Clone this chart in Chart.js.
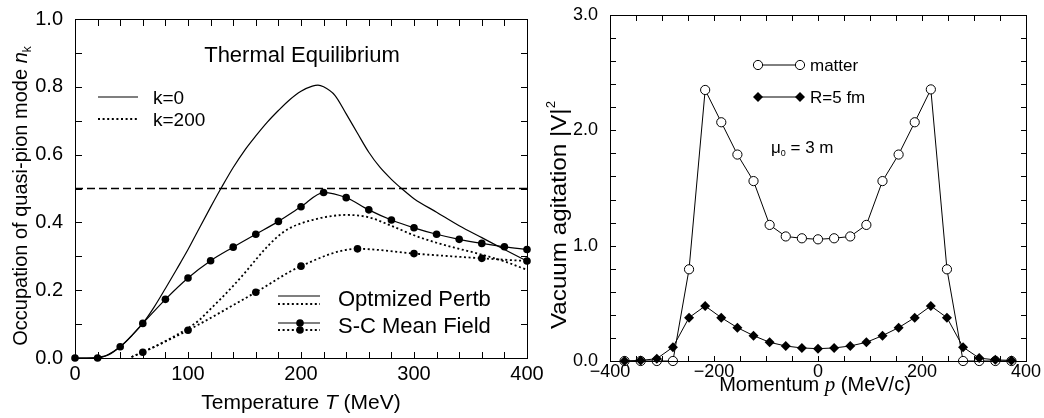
<!DOCTYPE html>
<html>
<head>
<meta charset="utf-8">
<script src="https://cdn.jsdelivr.net/npm/chart.js@4/dist/chart.umd.min.js"></script>
<style>
  html, body { margin: 0; padding: 0; background: #fff; }
  #wrap { position: relative; width: 1044px; height: 418px; overflow: hidden; }
  #c1 { position: absolute; left: 0; top: 0; }
  #c2 { position: absolute; left: 540px; top: 0; }
</style>
</head>
<body>
<div id="wrap">
  <canvas id="c1" width="560" height="418"></canvas>
  <canvas id="c2" width="504" height="418"></canvas>
</div>
<script>
// ---- Thermal equilibrium: occupation n_k vs temperature T (MeV) ----
const optK0T   = [0, 10, 20, 30, 40, 50, 60, 70, 80, 90, 100, 110, 120, 130, 140, 150, 160, 170, 180, 190, 200, 210, 215, 220, 230, 240, 250, 260, 270, 280, 290, 300, 320, 340, 360, 380, 400];
const optK0N   = [0, 0, 0.002, 0.01, 0.033, 0.065, 0.102, 0.15, 0.205, 0.262, 0.32, 0.383, 0.445, 0.505, 0.562, 0.612, 0.655, 0.695, 0.73, 0.762, 0.787, 0.802, 0.805, 0.80, 0.775, 0.72, 0.663, 0.607, 0.562, 0.527, 0.497, 0.47, 0.43, 0.39, 0.355, 0.32, 0.286];
const optK200T = [50, 60, 70, 80, 90, 100, 110, 120, 130, 140, 150, 160, 170, 180, 190, 200, 210, 220, 240, 260, 280, 300, 320, 340, 360, 380, 400];
const optK200N = [0.003, 0.018, 0.033, 0.05, 0.068, 0.088, 0.112, 0.145, 0.178, 0.213, 0.25, 0.29, 0.328, 0.36, 0.383, 0.397, 0.407, 0.415, 0.422, 0.415, 0.39, 0.362, 0.34, 0.322, 0.305, 0.285, 0.26];
const scK0T    = [0, 20, 40, 60, 80, 100, 120, 140, 160, 180, 200, 220, 240, 260, 280, 300, 320, 340, 360, 380, 400];
const scK0N    = [0, 0, 0.033, 0.102, 0.173, 0.236, 0.287, 0.327, 0.365, 0.403, 0.446, 0.488, 0.473, 0.437, 0.407, 0.384, 0.365, 0.35, 0.338, 0.328, 0.32];
const scK200T  = [50, 60, 100, 160, 200, 250, 300, 360, 400];
const scK200N  = [0.003, 0.017, 0.082, 0.194, 0.271, 0.322, 0.308, 0.294, 0.286];
const scK200Marker = [0, 3.8, 3.8, 3.8, 3.8, 3.8, 3.8, 3.8, 3.8];
const halfLineT = [0, 400];
const halfLineN = [0.5, 0.5];
const tempTicks = [0, 100, 200, 300, 400];
const occTicks  = [0, 0.2, 0.4, 0.6, 0.8, 1.0];
const tempMinor = [0, 20, 40, 60, 80, 100, 120, 140, 160, 180, 200, 220, 240, 260, 280, 300, 320, 340, 360, 380, 400];
const occMinor  = [0, 0.1, 0.2, 0.3, 0.4, 0.5, 0.6, 0.7, 0.8, 0.9, 1.0];

// ---- Vacuum agitation |V|^2 vs momentum p (MeV/c) ----
const momentum   = [-372, -341, -310, -279, -248, -217, -186, -155, -124, -93, -62, -31, 0, 31, 62, 93, 124, 155, 186, 217, 248, 279, 310, 341, 372];
const matterV2   = [0, 0, 0, 0, 0.795, 2.35, 2.07, 1.79, 1.56, 1.18, 1.08, 1.064, 1.055, 1.064, 1.08, 1.18, 1.56, 1.79, 2.07, 2.355, 0.795, 0, 0, 0, 0];
const r5fmV2     = [0, 0.005, 0.02, 0.12, 0.376, 0.477, 0.376, 0.289, 0.22, 0.162, 0.13, 0.113, 0.107, 0.113, 0.13, 0.162, 0.22, 0.289, 0.376, 0.477, 0.376, 0.12, 0.025, 0.01, 0.005];
const momTicks   = [-400, -200, 0, 200, 400];
const agitTicks  = [0, 1, 2, 3];
const momMinor   = [-400, -350, -300, -250, -200, -150, -100, -50, 0, 50, 100, 150, 200, 250, 300, 350, 400];
const agitMinor  = [0, 0.2, 0.4, 0.6, 0.8, 1.0, 1.2, 1.4, 1.6, 1.8, 2.0, 2.2, 2.4, 2.6, 2.8, 3.0];

const FONT = "'Liberation Sans', Arial, Helvetica, sans-serif";
const SERIF = "'Liberation Serif', 'Times New Roman', serif";
const TICK_GAP = 8; // default tick-mark length reserved by the axis

function pts(xs, ys) { return xs.map((x, i) => ({ x, y: ys[i] })); }

// Rich text: segments [{t, size, italic, family, dy}]; sx stretches along the baseline
function drawRich(ctx, segs, x, y, align, rot, sx) {
  ctx.save();
  ctx.translate(x, y);
  if (rot) ctx.rotate(rot);
  if (sx) ctx.scale(sx, 1);
  ctx.textAlign = 'left';
  ctx.textBaseline = 'alphabetic';
  ctx.fillStyle = '#000';
  let total = 0;
  segs.forEach(s => {
    s.font = (s.italic ? 'italic ' : '') + s.size + 'px ' + (s.family || FONT);
    ctx.font = s.font;
    s.w = ctx.measureText(s.t).width;
    total += s.w;
  });
  let cx = align === 'center' ? -total / 2 : (align === 'right' ? -total : 0);
  segs.forEach(s => {
    ctx.font = s.font;
    ctx.fillText(s.t, cx, s.dy || 0);
    cx += s.w;
  });
  ctx.restore();
}

// Box frame with inward minor ticks on all four sides, plus text overlay
function decorations(xMinor, yMinor, len, drawText) {
  return {
    id: 'decorations',
    afterDraw(chart) {
      const ctx = chart.ctx;
      const a = chart.chartArea;
      const xs = chart.scales.x, ys = chart.scales.y;
      const left = Math.round(a.left), right = Math.round(a.right);
      const top = Math.round(a.top), bottom = Math.round(a.bottom);
      ctx.save();
      ctx.fillStyle = '#000';
      ctx.fillRect(left, top, right - left + 1, 1);
      ctx.fillRect(left, bottom, right - left + 1, 1);
      ctx.fillRect(left, top, 1, bottom - top + 1);
      ctx.fillRect(right, top, 1, bottom - top + 1);
      for (const v of xMinor) {
        const px = Math.round(xs.getPixelForValue(v));
        ctx.fillRect(px, bottom - len + 1, 1, len);
        ctx.fillRect(px, top, 1, len);
      }
      for (const v of yMinor) {
        const py = Math.round(ys.getPixelForValue(v));
        ctx.fillRect(left, py, len, 1);
        ctx.fillRect(right - len + 1, py, len, 1);
      }
      ctx.restore();
      drawText(ctx, chart);
    }
  };
}

function axisCommon(min, max, ticks, fontSize, padding, fmt) {
  return {
    type: 'linear', min, max,
    grid: { display: false },
    border: { display: false },
    afterBuildTicks: s => { s.ticks = ticks.map(v => ({ value: v })); },
    ticks: { color: '#000', font: { family: FONT, size: fontSize }, padding: padding - TICK_GAP, callback: fmt }
  };
}

Chart.defaults.animation = false;

// ---------------- left panel ----------------
const leftX = axisCommon(0, 400, tempTicks, 20, 4, v => String(v));
leftX.afterFit = s => { s.height = 60; };
const leftY = axisCommon(0, 1, occTicks, 20, 12, v => v.toFixed(1));
leftY.afterFit = s => { s.width = 75; };

new Chart(document.getElementById('c1'), {
  type: 'line',
  data: {
    datasets: [
      { data: pts(scK0T, scK0N), borderColor: '#000', borderWidth: 1.2, pointRadius: 3.8,
        pointBackgroundColor: '#000', pointBorderColor: '#000', pointBorderWidth: 0,
        cubicInterpolationMode: 'monotone', clip: false },
      { data: pts(scK200T, scK200N), borderColor: '#000', borderWidth: 1.8, borderDash: [2, 2.6],
        pointRadius: scK200Marker, pointBackgroundColor: '#000', pointBorderColor: '#000', pointBorderWidth: 0,
        cubicInterpolationMode: 'monotone', clip: false },
      { data: pts(optK0T, optK0N), borderColor: '#000', borderWidth: 1.2, pointRadius: 0,
        cubicInterpolationMode: 'monotone', clip: false },
      { data: pts(optK200T, optK200N), borderColor: '#000', borderWidth: 1.8, borderDash: [2, 2.6],
        pointRadius: 0, cubicInterpolationMode: 'monotone', clip: false },
      { data: pts(halfLineT, halfLineN), borderColor: '#000', borderWidth: 1.5, borderDash: [8, 4],
        pointRadius: 0 }
    ]
  },
  options: {
    responsive: false,
    layout: { padding: { left: 0, top: 19, right: 33, bottom: 0 } },
    scales: { x: leftX, y: leftY },
    plugins: { legend: { display: false }, tooltip: { enabled: false } }
  },
  plugins: [
    decorations(tempMinor, occMinor, 7, (ctx) => {
      drawRich(ctx, [{ t: 'Thermal Equilibrium', size: 22 }], 302, 62, 'center');
      ctx.save();
      ctx.strokeStyle = '#000';
      // k legend
      ctx.lineWidth = 1.2;
      ctx.beginPath(); ctx.moveTo(98, 97); ctx.lineTo(138, 97); ctx.stroke();
      ctx.lineWidth = 1.8; ctx.setLineDash([2, 2.6]);
      ctx.beginPath(); ctx.moveTo(98, 119); ctx.lineTo(138, 119); ctx.stroke();
      ctx.setLineDash([]);
      // method legend
      ctx.lineWidth = 1.2;
      ctx.beginPath(); ctx.moveTo(278, 296); ctx.lineTo(320, 296); ctx.stroke();
      ctx.beginPath(); ctx.moveTo(278, 323); ctx.lineTo(320, 323); ctx.stroke();
      ctx.lineWidth = 1.8; ctx.setLineDash([2, 2.6]);
      ctx.beginPath(); ctx.moveTo(278, 304); ctx.lineTo(320, 304); ctx.stroke();
      ctx.beginPath(); ctx.moveTo(278, 330); ctx.lineTo(320, 330); ctx.stroke();
      ctx.setLineDash([]);
      ctx.fillStyle = '#000';
      ctx.beginPath(); ctx.arc(300, 323, 3.8, 0, Math.PI * 2); ctx.fill();
      ctx.beginPath(); ctx.arc(300, 330, 3.8, 0, Math.PI * 2); ctx.fill();
      ctx.restore();
      drawRich(ctx, [{ t: 'k=0', size: 19 }], 153, 104, 'left');
      drawRich(ctx, [{ t: 'k=200', size: 19 }], 153, 126, 'left');
      drawRich(ctx, [{ t: 'Optmized Pertb', size: 22 }], 338, 306, 'left');
      drawRich(ctx, [{ t: 'S-C Mean Field', size: 22 }], 338, 333, 'left');
      // axis titles
      drawRich(ctx, [{ t: 'Temperature ', size: 21 }, { t: 'T', size: 21, italic: true }, { t: ' (MeV)', size: 21 }], 301, 409, 'center');
      drawRich(ctx, [
        { t: 'Occupation of quasi-pion mode ', size: 20 },
        { t: 'n', size: 20, italic: true },
        { t: 'k', size: 12, dy: 4 }
      ], 27, 196, 'center', -Math.PI / 2);
    })
  ]
});

// ---------------- right panel ----------------
const rightX = axisCommon(-400, 400, momTicks, 18, 0, v => String(v).replace('-', '\u2212'));
rightX.afterFit = s => { s.height = 57; };
const rightY = axisCommon(0, 3, agitTicks, 18, 12, v => v.toFixed(1));
rightY.afterFit = s => { s.width = 70; };

new Chart(document.getElementById('c2'), {
  type: 'line',
  data: {
    datasets: [
      { data: pts(momentum, r5fmV2), borderColor: '#000', borderWidth: 1, tension: 0,
        pointStyle: 'rectRot', pointRadius: 5, pointBackgroundColor: '#000', pointBorderColor: '#000',
        pointBorderWidth: 0, clip: false },
      { data: pts(momentum, matterV2), borderColor: '#000', borderWidth: 1, tension: 0,
        pointStyle: 'circle', pointRadius: 4.6, pointBackgroundColor: '#fff', pointBorderColor: '#000',
        pointBorderWidth: 1, clip: false }
    ]
  },
  options: {
    responsive: false,
    layout: { padding: { left: 0, top: 15, right: 18, bottom: 0 } },
    scales: { x: rightX, y: rightY },
    plugins: { legend: { display: false }, tooltip: { enabled: false } }
  },
  plugins: [
    decorations(momMinor, agitMinor, 6, (ctx) => {
      const o = 540;
      ctx.save();
      ctx.strokeStyle = '#000'; ctx.lineWidth = 1;
      ctx.beginPath(); ctx.moveTo(758 - o, 65); ctx.lineTo(800 - o, 65); ctx.stroke();
      ctx.beginPath(); ctx.moveTo(758 - o, 97); ctx.lineTo(800 - o, 97); ctx.stroke();
      [758, 800].forEach(px => {
        ctx.beginPath(); ctx.arc(px - o, 65, 4.6, 0, Math.PI * 2);
        ctx.fillStyle = '#fff'; ctx.fill(); ctx.stroke();
        ctx.beginPath();
        ctx.moveTo(px - o, 92); ctx.lineTo(px - o + 5, 97); ctx.lineTo(px - o, 102); ctx.lineTo(px - o - 5, 97);
        ctx.closePath(); ctx.fillStyle = '#000'; ctx.fill();
      });
      ctx.restore();
      drawRich(ctx, [{ t: 'matter', size: 17 }], 810 - o, 71, 'left');
      drawRich(ctx, [{ t: 'R=5 fm', size: 17 }], 810 - o, 103, 'left');
      drawRich(ctx, [{ t: '\u03bc', size: 17 }, { t: '0', size: 9, dy: 3 }, { t: ' = 3 m', size: 17 }], 771 - o, 153, 'left');
      drawRich(ctx, [
        { t: 'Momentum ', size: 20 },
        { t: 'p', size: 21, italic: true, family: SERIF },
        { t: ' (MeV/c)', size: 20 }
      ], 815 - o, 391, 'center');
      drawRich(ctx, [
        { t: 'Vacuum agitation |V|', size: 22 },
        { t: '2', size: 12, dy: -11 }
      ], 26, 215, 'center', -Math.PI / 2, 1.1);
    })
  ]
});
</script>
</body>
</html>
